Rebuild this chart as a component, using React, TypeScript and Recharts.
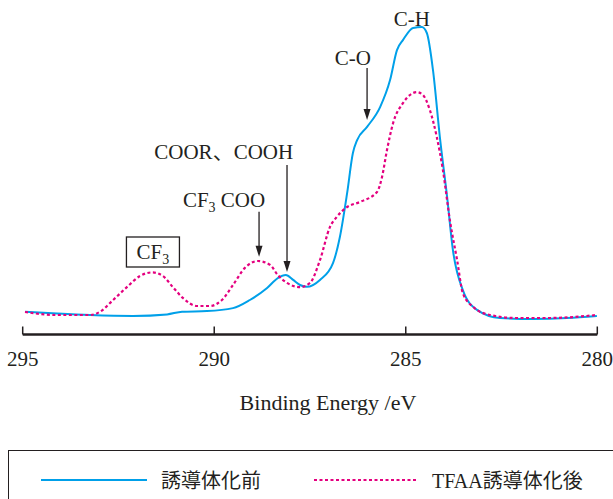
import React from 'react';
import { LineChart, Line, XAxis, YAxis, ReferenceLine, ReferenceDot, Legend } from 'recharts';

// Binding energy (eV) and intensity (a.u.)
const beforeEnergy = [
  294.94, 294.1, 293.24, 292.12, 291.23, 290.84, 290.19, 289.51, 289.07, 288.62,
  288.34, 288.13, 287.94, 287.76, 287.58, 287.24, 286.9, 286.72, 286.53, 286.38,
  286.27, 286.01, 285.67, 285.41, 285.23, 285.07, 284.81, 284.58, 284.45, 284.29,
  284.11, 283.92, 283.77, 283.51, 283.14, 282.54, 281.68, 280.79, 280.01,
];
const beforeIntensity = [
  7.6, 7.0, 6.5, 6.2, 6.7, 7.6, 7.8, 8.8, 11.5, 15.5,
  18.8, 19.8, 18.2, 16.5, 15.9, 18.2, 23.8, 32.5, 47.2, 60.5,
  64.8, 69.2, 75.8, 84.8, 94.8, 98.2, 102.2, 102.5, 100.5, 88.2,
  65.8, 45.8, 28.2, 14.8, 8.2, 5.5, 5.2, 5.5, 6.2,
];
const afterEnergy = [
  294.94, 294.1, 293.24, 292.98, 292.64, 292.28, 291.94, 291.62, 291.34, 291.08,
  290.82, 290.45, 290.11, 289.8, 289.51, 289.2, 288.86, 288.54, 288.34, 288.1,
  287.76, 287.5, 287.24, 286.98, 286.8, 286.53, 286.19, 285.75, 285.62, 285.49,
  285.33, 285.07, 284.71, 284.55, 284.37, 284.19, 284.03, 283.85, 283.66, 283.51,
  283.24, 282.8, 282.1, 281.24, 280.01,
];
const afterIntensity = [
  7.5, 6.5, 6.5, 7.6, 11.5, 15.8, 19.5, 20.7, 19.5, 15.8,
  12.2, 9.5, 9.5, 11.5, 16.5, 22.2, 24.5, 23.2, 19.8, 17.2,
  15.8, 17.2, 24.8, 35.8, 39.2, 42.5, 44.2, 47.5, 52.5, 61.5,
  70.5, 77.2, 80.8, 79.8, 74.8, 65.8, 54.8, 38.2, 24.8, 13.8,
  9.2, 6.5, 5.5, 5.5, 6.5,
];
const xTicks = [295, 290, 285, 280];
const seriesNames = ['誘導体化前', 'TFAA誘導体化後'];
const seriesColors = ['#00a0e9', '#e4007f'];
const axisTitle = 'Binding Energy /eV';

// annotation anchors in data space
const arrowX = [286.01, 288.1, 288.83];
const arrowFrom = [88.8, 56.5, 40.9];
const arrowTo = [71.5, 20.8, 25.9];

const beforeData = beforeEnergy.map((e, i) => ({ e, v: beforeIntensity[i] }));
const afterData = afterEnergy.map((e, i) => ({ e, v: afterIntensity[i] }));

const INK = '#231f20';
const SERIF = "'Liberation Serif', 'Noto Sans CJK JP', serif";

const AxisTick = (props: any) => {
  const { x, y, payload } = props;
  return (
    <g>
      <line x1={x} x2={x} y1={y} y2={y - 8} stroke={INK} strokeWidth={1.5} />
      <text x={x} y={y + 31} textAnchor="middle" fontSize={21} fontFamily={SERIF} fill={INK}>
        {payload.value}
      </text>
    </g>
  );
};

const textShape = (content: React.ReactNode, anchor: string) => (p: any) => (
  <text x={p.cx} y={p.cy + 7} textAnchor={anchor} fontSize={21} fontFamily={SERIF} fill={INK}>
    {content}
  </text>
);

const arrowHead = (p: any) => (
  <path d={`M${p.cx},${p.cy} L${p.cx - 3.5},${p.cy - 11} L${p.cx + 3.5},${p.cy - 11} Z`} fill={INK} />
);

const boxedShape = (p: any) => (
  <g>
    <rect x={p.cx - 26.5} y={p.cy - 15} width={53} height={30} fill="#fff" stroke={INK} strokeWidth={1.3} />
    <text x={p.cx} y={p.cy + 7} textAnchor="middle" fontSize={21} fontFamily={SERIF} fill={INK}>
      <tspan>CF</tspan>
      <tspan fontSize={14} dy={5}>3</tspan>
    </text>
  </g>
);

const renderLegend = () => (
  <div
    style={{
      position: 'relative',
      width: 605,
      height: 49,
      borderTop: `1.5px solid ${INK}`,
      borderLeft: `1.5px solid ${INK}`,
      boxSizing: 'border-box',
    }}
  >
    <svg width={605} height={49} style={{ position: 'absolute', left: 0, top: 0 }}>
      <line x1={32} x2={138} y1={29} y2={29} stroke={seriesColors[0]} strokeWidth={2} />
      <text x={152} y={36.5} fontSize={20} fontFamily={SERIF} fill={INK}>{seriesNames[0]}</text>
      <line x1={305} x2={407} y1={29} y2={29} stroke={seriesColors[1]} strokeWidth={2} strokeDasharray="3 2.5" />
      <text x={423} y={36.5} fontSize={20} fontFamily={SERIF} fill={INK}>{seriesNames[1]}</text>
    </svg>
  </div>
);

const renderAxisTitle = (p: any) => {
  const vb = p.viewBox || { x: 22.7, y: 334.5, width: 574.6 };
  return (
    <text x={vb.x + vb.width / 2 + 18} y={vb.y + 75.5} textAnchor="middle" fontSize={22} fontFamily={SERIF} fill={INK}>
      {axisTitle}
    </text>
  );
};

export default function App() {
  return (
    <div style={{ position: 'absolute', left: 0, top: 0, width: 613, height: 499, background: '#fff' }}>
      <LineChart width={613} height={499} margin={{ top: 4.5, right: 15.7, bottom: 124.5, left: 22.7 }}>
        <XAxis
          dataKey="e"
          type="number"
          domain={[280, 295]}
          reversed
          ticks={xTicks}
          allowDataOverflow
          height={40}
          tickLine={false}
          tickSize={0}
          tickMargin={0}
          tick={<AxisTick />}
          axisLine={{ stroke: INK, strokeWidth: 2.5 }}
          label={{ value: axisTitle, position: 'insideBottom', content: renderAxisTitle }}
        />
        <YAxis hide type="number" domain={[0, 110]} allowDataOverflow />
        <Line
          data={beforeData}
          dataKey="v"
          name={seriesNames[0]}
          type="monotone"
          stroke={seriesColors[0]}
          strokeWidth={2}
          dot={false}
          activeDot={false}
          isAnimationActive={false}
        />
        <Line
          data={afterData}
          dataKey="v"
          name={seriesNames[1]}
          type="monotone"
          stroke={seriesColors[1]}
          strokeWidth={2.2}
          strokeDasharray="3 2.5"
          dot={false}
          activeDot={false}
          isAnimationActive={false}
        />
        {arrowX.map((x, i) => (
          <ReferenceLine
            key={`al${i}`}
            segment={[{ x, y: arrowFrom[i] }, { x, y: arrowTo[i] + 3 }]}
            stroke={INK}
            strokeWidth={1.3}
          />
        ))}
        {arrowX.map((x, i) => (
          <ReferenceDot key={`ah${i}`} x={x} y={arrowTo[i]} r={0} shape={arrowHead} />
        ))}
        <ReferenceDot x={284.84} y={105.2} r={0} shape={textShape('C-H', 'middle')} />
        <ReferenceDot x={286.38} y={92.2} r={0} shape={textShape('C-O', 'middle')} />
        <ReferenceDot x={287.94} y={60.8} r={0} shape={textShape('COOR、COOH', 'end')} />
        <ReferenceDot
          x={288.67}
          y={44.8}
          r={0}
          shape={textShape(
            <>
              <tspan>CF</tspan>
              <tspan fontSize={14} dy={5}>3</tspan>
              <tspan dy={-5}> COO</tspan>
            </>,
            'end'
          )}
        />
        <ReferenceDot x={291.6} y={27.5} r={0} shape={boxedShape} />
        <Legend
          layout="horizontal"
          verticalAlign="middle"
          align="center"
          wrapperStyle={{ top: 450, left: 8, width: 605, height: 49 }}
          content={renderLegend}
        />
      </LineChart>
    </div>
  );
}
